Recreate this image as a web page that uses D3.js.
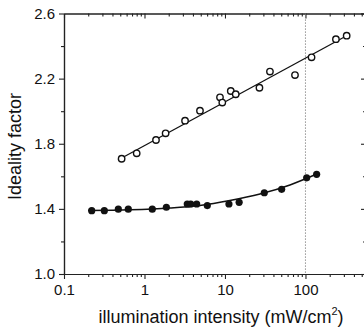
<!DOCTYPE html>
<html>
<head>
<meta charset="utf-8">
<script src="https://cdn.jsdelivr.net/npm/d3@7"></script>
<style>
  html, body { margin: 0; padding: 0; background: #fff; }
  svg { display: block; }
  text { font-family: "Liberation Sans", Arial, Helvetica, sans-serif; fill: #111; }
</style>
</head>
<body>
<svg id="chart" width="364" height="327"></svg>
<script>
// ---- data ----
const openIntensity = [0.52, 0.80, 1.39, 1.83, 3.19, 4.89, 8.67, 9.26, 11.8, 13.6, 26.8, 36.2, 74.1, 119, 239, 325];
const openIdeality  = [1.708, 1.741, 1.823, 1.864, 1.942, 2.003, 2.085, 2.053, 2.124, 2.104, 2.144, 2.243, 2.222, 2.331, 2.442, 2.464];

const filledIntensity = [0.221, 0.317, 0.473, 0.629, 1.25, 1.87, 3.40, 3.75, 4.45, 6.03, 11.2, 15.0, 30.8, 50.6, 103.5, 137.7];
const filledIdeality  = [1.389, 1.389, 1.398, 1.398, 1.398, 1.410, 1.430, 1.430, 1.430, 1.420, 1.430, 1.440, 1.499, 1.520, 1.591, 1.612];

const openFitIntensity = [0.469, 347];
const openFitIdeality  = [1.700, 2.471];

const filledFitIntensity = [0.199, 0.66, 2.07, 4.89, 11.5, 27.2, 64.2, 143];
const filledFitIdeality  = [1.390, 1.394, 1.405, 1.421, 1.451, 1.491, 1.547, 1.617];

const xMajorTicks = [0.1, 1, 10, 100];
const xTickLabels = ["0.1", "1", "10", "100"];
const yMajorTicks = [1.0, 1.4, 1.8, 2.2, 2.6];
const yMinorTicks = [1.2, 1.6, 2.0, 2.4];
const refLineIntensity = 100;

const xTitle = "illumination intensity (mW/cm";
const yTitle = "Ideality factor";

// ---- layout ----
const svg = d3.select("#chart");
const pLeft = 64, pRight = 366, pTop = 13.5, pBottom = 274;

const x = d3.scaleLog().domain([0.1, 565]).range([pLeft, pRight]);
const y = d3.scaleLinear().domain([1.0, 2.6]).range([pBottom, pTop]);

const xMinorTicks = [];
[0.1, 1, 10, 100].forEach(d => { for (let k = 2; k <= 9; k++) { const v = d * k; if (v <= 565) xMinorTicks.push(v); } });

const axisColor = "#222";
function styleAxis(g) {
  g.selectAll("path.domain").attr("stroke", axisColor).attr("stroke-width", 1.2);
  g.selectAll(".tick line").attr("stroke", axisColor).attr("stroke-width", 1.1);
  g.selectAll(".tick text").attr("font-size", 15).attr("font-family", "'Liberation Sans', Arial, sans-serif").attr("fill", "#111");
}

// bottom axis
svg.append("g").attr("transform", `translate(0,${pBottom})`)
  .call(d3.axisBottom(x).tickValues(xMinorTicks).tickSize(3).tickSizeOuter(0).tickFormat(""))
  .call(styleAxis);
svg.append("g").attr("transform", `translate(0,${pBottom})`)
  .call(d3.axisBottom(x).tickValues(xMajorTicks).tickSize(5).tickSizeOuter(0).tickPadding(5)
        .tickFormat((d, i) => xTickLabels[i]))
  .call(styleAxis);

// top axis (mirror, inward ticks)
svg.append("g").attr("transform", `translate(0,${pTop})`)
  .call(d3.axisTop(x).tickValues(xMinorTicks).tickSize(-3).tickSizeOuter(0).tickFormat(""))
  .call(styleAxis);
svg.append("g").attr("transform", `translate(0,${pTop})`)
  .call(d3.axisTop(x).tickValues(xMajorTicks).tickSize(-5).tickSizeOuter(0).tickFormat(""))
  .call(styleAxis);

// left axis
svg.append("g").attr("transform", `translate(${pLeft},0)`)
  .call(d3.axisLeft(y).tickValues(yMinorTicks).tickSize(3).tickSizeOuter(0).tickFormat(""))
  .call(styleAxis);
svg.append("g").attr("transform", `translate(${pLeft},0)`)
  .call(d3.axisLeft(y).tickValues(yMajorTicks).tickSize(5).tickSizeOuter(0).tickPadding(4)
        .tickFormat(d3.format(".1f")))
  .call(styleAxis);

// right axis (mirror, inward ticks)
svg.append("g").attr("transform", `translate(${pRight},0)`)
  .call(d3.axisRight(y).tickValues(yMinorTicks).tickSize(-3).tickSizeOuter(0).tickFormat(""))
  .call(styleAxis);
svg.append("g").attr("transform", `translate(${pRight},0)`)
  .call(d3.axisRight(y).tickValues(yMajorTicks).tickSize(-5).tickSizeOuter(0).tickFormat(""))
  .call(styleAxis);

// dotted reference line
svg.append("line")
  .attr("x1", x(refLineIntensity)).attr("x2", x(refLineIntensity))
  .attr("y1", pTop).attr("y2", pBottom)
  .attr("stroke", "#777").attr("stroke-width", 1).attr("stroke-dasharray", "1.2,1.8");

// fit lines
const line = d3.line().x(d => x(d[0])).y(d => y(d[1])).curve(d3.curveMonotoneX);
svg.append("path")
  .datum(openFitIntensity.map((v, i) => [v, openFitIdeality[i]]))
  .attr("d", line).attr("fill", "none").attr("stroke", "#111").attr("stroke-width", 1.3);
svg.append("path")
  .datum(filledFitIntensity.map((v, i) => [v, filledFitIdeality[i]]))
  .attr("d", line).attr("fill", "none").attr("stroke", "#111").attr("stroke-width", 1.5);

// points
svg.append("g").selectAll("circle")
  .data(openIntensity.map((v, i) => [v, openIdeality[i]]))
  .join("circle")
  .attr("cx", d => x(d[0])).attr("cy", d => y(d[1])).attr("r", 3.2)
  .attr("fill", "#fff").attr("stroke", "#111").attr("stroke-width", 1.4);
svg.append("g").selectAll("circle")
  .data(filledIntensity.map((v, i) => [v, filledIdeality[i]]))
  .join("circle")
  .attr("cx", d => x(d[0])).attr("cy", d => y(d[1])).attr("r", 3.6)
  .attr("fill", "#111");

// axis titles
const xt = svg.append("text")
  .attr("x", 221).attr("y", 323).attr("text-anchor", "middle")
  .attr("font-size", 18);
xt.append("tspan").text(xTitle);
xt.append("tspan").attr("font-size", 11).attr("dy", -8).text("2");
xt.append("tspan").attr("dy", 8).text(")");

svg.append("text")
  .attr("transform", "translate(21,146.5) rotate(-90)")
  .attr("text-anchor", "middle").attr("font-size", 18)
  .text(yTitle);
</script>
</body>
</html>
